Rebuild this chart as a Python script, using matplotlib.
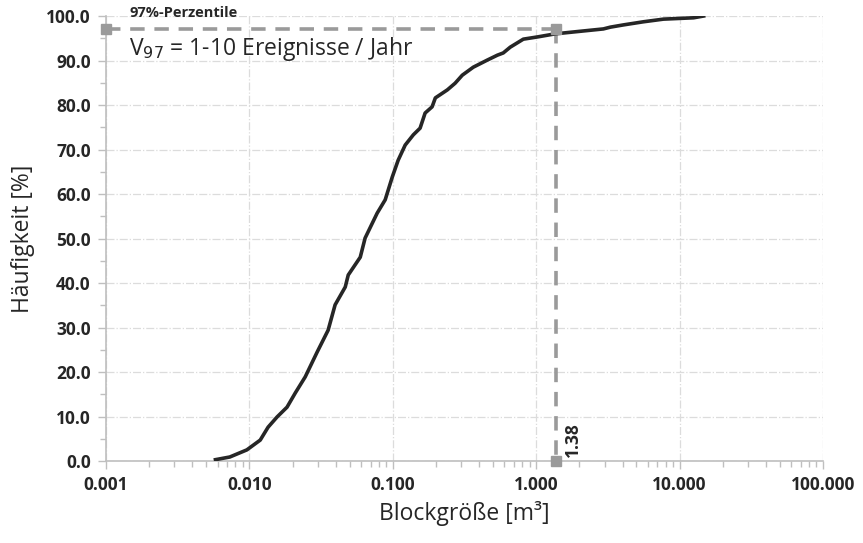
import matplotlib
matplotlib.use("Agg")
import matplotlib.pyplot as plt
from matplotlib.ticker import FixedLocator, FuncFormatter, LogLocator, NullFormatter

# data
block_size = [0.0058, 0.0073, 0.0096, 0.0119, 0.0135, 0.0156, 0.0183, 0.0209, 0.0245,
              0.0297, 0.0354, 0.0396, 0.0466, 0.0489, 0.0593, 0.0641, 0.0778, 0.0885,
              0.0991, 0.109, 0.122, 0.139, 0.155, 0.168, 0.188, 0.198, 0.240, 0.272,
              0.305, 0.364, 0.456, 0.536, 0.589, 0.659, 0.813, 1.02, 1.36, 2.94, 3.29,
              4.05, 5.58, 7.71, 12.5, 14.7]
frequency = [0.3, 0.9, 2.5, 4.7, 7.6, 9.9, 12.1, 15.3, 18.9,
             24.5, 29.4, 35.1, 39.1, 41.8, 45.8, 50.1, 55.7, 58.7,
             63.8, 67.6, 71.0, 73.3, 74.8, 78.2, 79.6, 81.6, 83.4, 84.9,
             86.7, 88.5, 90.1, 91.2, 91.7, 93.0, 94.8, 95.3, 96.0, 97.1, 97.5,
             98.0, 98.7, 99.3, 99.6, 100.0]
perc_x = 1.38
perc_y = 97.0
x_ticks = [0.001, 0.01, 0.1, 1, 10, 100]
x_labels = ["0.001", "0.010", "0.100", "1.000", "10.000", "100.000"]
y_ticks = [0, 10, 20, 30, 40, 50, 60, 70, 80, 90, 100]

plt.rcParams['font.family'] = ['Open Sans', 'DejaVu Sans']

fig = plt.figure(figsize=(8.63, 5.43), dpi=100)
ax = fig.add_axes([0.1228, 0.151, 0.8309, 0.8195])

ax.set_xscale('log')
ax.set_xlim(0.001, 100)
ax.set_ylim(0, 100)

gray = '#9a9a9a'
ax.grid(True, which='major', linestyle='-.', color='#dcdcdc', linewidth=0.9)
ax.set_axisbelow(True)

# percentile guide lines
ax.plot([0.001, perc_x], [perc_y, perc_y], linestyle=(0, (4, 2.7)), color=gray,
        linewidth=2.6, clip_on=False, zorder=3)
ax.plot([perc_x, perc_x], [perc_y, 0], linestyle=(0, (4, 2.7)), color=gray,
        linewidth=2.6, clip_on=False, zorder=3)

ax.plot(block_size, frequency, color='#262626', linewidth=2.6, zorder=4)

ax.plot([0.001, perc_x, perc_x], [perc_y, perc_y, 0], linestyle='none', marker='s',
        markersize=7.5, color=gray, clip_on=False, zorder=5)

for s in ['top', 'right']:
    ax.spines[s].set_visible(False)
for s in ['left', 'bottom']:
    ax.spines[s].set_color('#bfbfbf')
    ax.spines[s].set_linewidth(1.2)

ax.xaxis.set_major_locator(FixedLocator(x_ticks))
ax.set_xticklabels(x_labels)
ax.xaxis.set_minor_locator(LogLocator(base=10, subs=range(2, 10)))
ax.xaxis.set_minor_formatter(NullFormatter())
ax.yaxis.set_major_locator(FixedLocator(y_ticks))
ax.yaxis.set_major_formatter(FuncFormatter(lambda v, p: f"{v:.1f}"))
ax.yaxis.set_minor_locator(FixedLocator([5, 15, 25, 35, 45, 55, 65, 75, 85, 95]))

ax.tick_params(which='both', direction='out', color='#bfbfbf', width=1)
ax.tick_params(which='major', length=6, labelsize=12.5, pad=5)
ax.tick_params(which='minor', length=4)
for lab in ax.get_xticklabels() + ax.get_yticklabels():
    lab.set_fontweight('bold')
    lab.set_color('#262626')

ax.set_xlabel('Blockgröße [m³]', fontsize=16.5, color='#262626', labelpad=5)
ax.set_ylabel('Häufigkeit [%]', fontsize=16.5, color='#262626', labelpad=8)

ax.text(0.00145, 100.7, '97%-Perzentile', fontsize=10.5, fontweight='bold',
        color='#262626', va='center', ha='left', clip_on=False)
ax.text(0.00145, 92.6, r'V$_{97}$ = 1-10 Ereignisse / Jahr', fontsize=16.5,
        color='#262626', va='center', ha='left')
ax.text(1.8, 1.0, '1.38', fontsize=12.5, fontweight='bold', rotation=90,
        color='#262626', va='bottom', ha='center')

fig.savefig('out.png', dpi=100)
